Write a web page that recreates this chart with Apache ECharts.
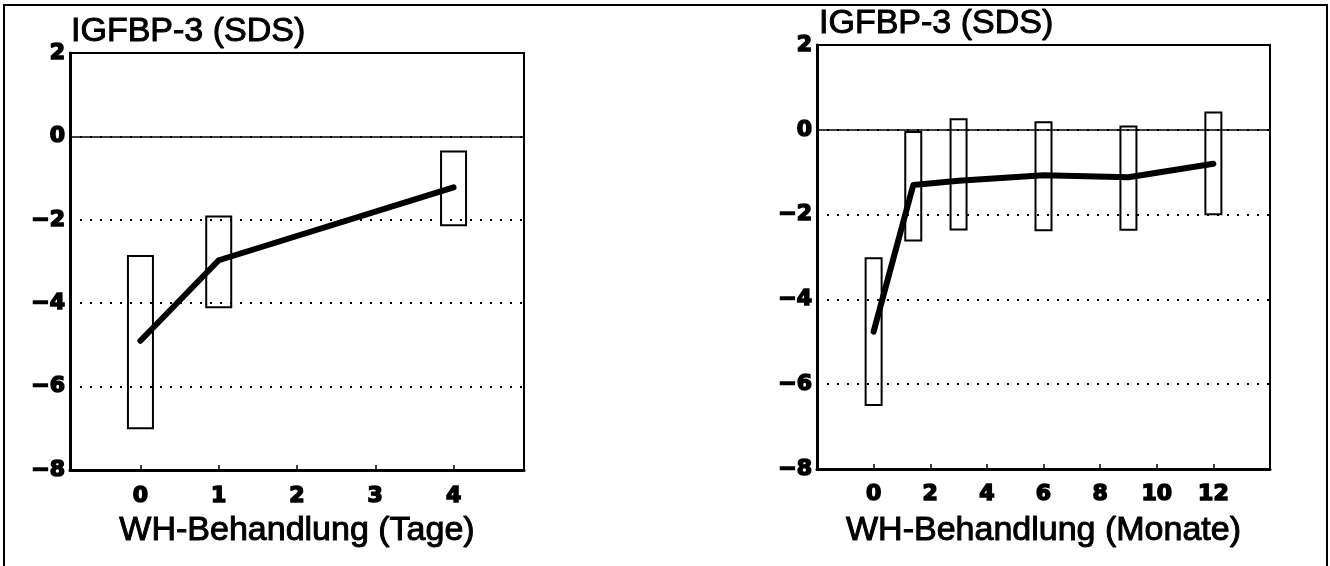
<!DOCTYPE html>
<html>
<head>
<meta charset="utf-8">
<script src="https://cdn.jsdelivr.net/npm/echarts@6/dist/echarts.min.js"></script>
<style>
html,body{margin:0;padding:0;background:#fff;}
#chart{width:1330px;height:566px;}
</style>
</head>
<body>
<div id="chart"></div>
<script>
// ---- data ----
const titleText = 'IGFBP-3 (SDS)';
const yTicks = [2, 0, -2, -4, -6, -8];

const daysName = 'WH-Behandlung (Tage)';
const daysTicks = [0, 1, 2, 3, 4];
const daysX = [0, 1, 4];
const daysLow = [-7.0, -4.1, -2.13];
const daysHigh = [-2.87, -1.92, -0.36];
const daysMean = [-4.9, -2.97, -1.22];

const monthsName = 'WH-Behandlung (Monate)';
const monthsTicks = [0, 2, 4, 6, 8, 10, 12];
const monthsX = [0, 1.4, 3, 6, 9, 12];
const monthsLow = [-6.49, -2.61, -2.35, -2.37, -2.36, -1.99];
const monthsHigh = [-3.03, -0.05, 0.25, 0.18, 0.08, 0.41];
const monthsMean = [-4.76, -1.3, -1.2, -1.07, -1.12, -0.8];

// ---- chart ----
const chart = echarts.init(document.getElementById('chart'), null, {renderer: 'canvas'});
const tickFont = {fontFamily: 'DejaVu Sans', fontWeight: 'bold', fontSize: 22, color: '#000',
                  textBorderColor: '#000', textBorderWidth: 1.6};
const textFont = 'Liberation Sans';
const bigText = {fontFamily: textFont, fontWeight: 'normal', fontSize: 34, color: '#000',
                 textBorderColor: '#000', textBorderWidth: 1};

function boxes(xs, lo, hi) { return xs.map((x, i) => [x, lo[i], hi[i]]); }
function pts(xs, ys) { return xs.map((x, i) => [x, ys[i]]); }

function boxSeries(idx, data, pxWidth) {
  return {
    type: 'custom', xAxisIndex: idx, yAxisIndex: idx, z: 3, silent: true,
    data: data,
    renderItem: function (params, api) {
      const x = api.value(0);
      const top = api.coord([x, api.value(2)]);
      const bot = api.coord([x, api.value(1)]);
      return {
        type: 'rect',
        shape: {x: top[0] - pxWidth / 2, y: top[1], width: pxWidth, height: bot[1] - top[1]},
        style: {fill: 'none', stroke: '#000', lineWidth: 2}
      };
    }
  };
}
function meanSeries(idx, data) {
  return {
    type: 'line', xAxisIndex: idx, yAxisIndex: idx, z: 5, silent: true,
    data: data, symbol: 'none', smooth: false,
    lineStyle: {color: '#000', width: 6, cap: 'round', join: 'round'},
    markLine: {
      silent: true, symbol: 'none', z: 1,
      label: {show: false},
      lineStyle: {color: '#000', width: 1.5, type: 'solid'},
      data: [{yAxis: 0}]
    }
  };
}
function yAxis(idx) {
  return {
    type: 'value', gridIndex: idx, min: -8, max: 2, interval: 2,
    axisLine: {show: true, onZero: false, lineStyle: {color: '#000', width: 3}},
    axisTick: {show: false},
    axisLabel: Object.assign({margin: 5, formatter: v => String(v).replace('-', '\u2212')}, tickFont),
    splitLine: {show: true, lineStyle: {color: '#000', width: 2, type: [2, 8]}}
  };
}
function xAxis(idx, min, max, ticks, name, margin, gap) {
  return {
    type: 'value', gridIndex: idx, min: min, max: max,
    name: name, nameLocation: 'middle', nameGap: gap,
    nameTextStyle: bigText,
    axisLine: {show: true, onZero: false, lineStyle: {color: '#000', width: 3}},
    axisTick: {show: true, inside: true, length: 5, customValues: ticks, lineStyle: {color: '#000', width: 1.5}},
    axisLabel: Object.assign({margin: margin, customValues: ticks, formatter: v => String(v)}, tickFont),
    splitLine: {show: false}
  };
}

chart.setOption({
  animation: false,
  backgroundColor: '#fff',
  title: [
    {text: titleText, left: 71, top: 15, padding: 0, textStyle: bigText},
    {text: titleText, left: 819, top: 7, padding: 0, textStyle: bigText}
  ],
  graphic: [{
    type: 'rect', z: 100, silent: true,
    shape: {x: 4, y: 5, width: 1323, height: 570},
    style: {fill: 'none', stroke: '#000', lineWidth: 2}
  }],
  grid: [
    {left: 70, top: 53, width: 454, height: 417, show: true, borderColor: '#000', borderWidth: 2, backgroundColor: 'transparent'},
    {left: 817, top: 45, width: 453, height: 424, show: true, borderColor: '#000', borderWidth: 2, backgroundColor: 'transparent'}
  ],
  xAxis: [
    xAxis(0, -0.9, 4.9, daysTicks, daysName, 15, 44),
    xAxis(1, -2, 14, monthsTicks, monthsName, 14, 45)
  ],
  yAxis: [yAxis(0), yAxis(1)],
  series: [
    boxSeries(0, boxes(daysX, daysLow, daysHigh), 25),
    meanSeries(0, pts(daysX, daysMean)),
    boxSeries(1, boxes(monthsX, monthsLow, monthsHigh), 16),
    meanSeries(1, pts(monthsX, monthsMean))
  ]
});
</script>
</body>
</html>
